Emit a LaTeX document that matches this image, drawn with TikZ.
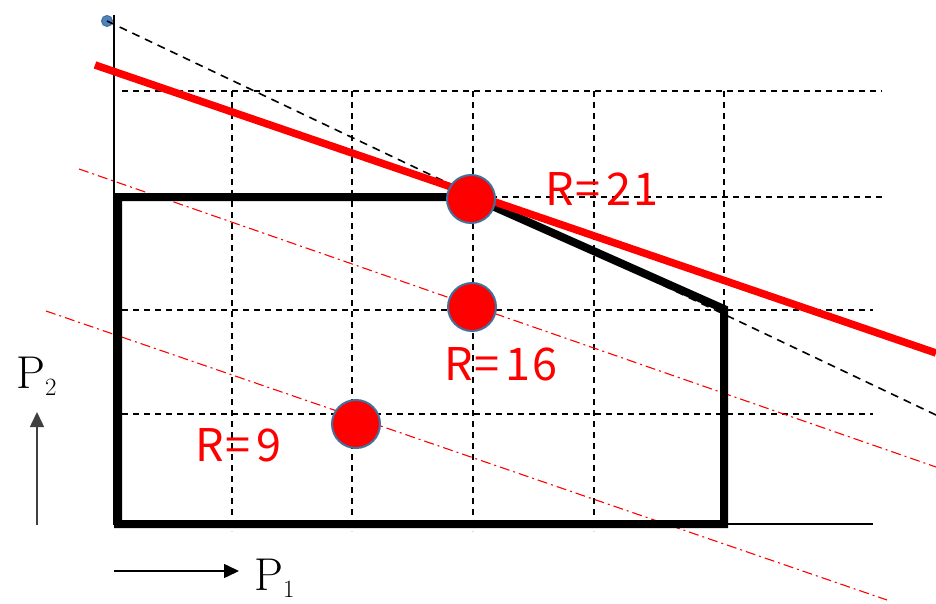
\documentclass[tikz,border=0pt]{standalone}
\usepackage{fontspec}
\newfontfamily\jpfont{Noto Sans CJK JP}
\usetikzlibrary{arrows.meta}
\definecolor{dotedge}{RGB}{65,113,156}
\definecolor{bluedot}{RGB}{80,130,190}
\tikzset{
  gridline/.style={black, line width=1.4pt, dash pattern=on 6pt off 5pt},
  diagline/.style={black, line width=1.6pt, dash pattern=on 8pt off 6pt},
  rdashdot/.style={red, line width=1.1pt, dash pattern=on 10pt off 4pt on 2pt off 4pt},
  polyline/.style={black, line width=8pt, line join=miter},
  optline/.style={red, line width=7.5pt},
  reddot/.style={circle, fill=red, draw=dotedge, line width=2pt, minimum size=48pt, inner sep=0pt},
  rlabel/.style={red, font=\jpfont\fontsize{45}{50}\selectfont, anchor=base west, inner sep=0pt},
  plabel/.style={font=\fontsize{46}{50}\selectfont, anchor=base west, inner sep=0pt},
  axarrow/.style={line width=1.5pt, -{Triangle[length=15pt,width=14pt]}}
}
\newcommand{\eqk}{\kern2pt=\kern6pt}
\begin{document}
\begin{tikzpicture}[x=1pt,y=-1pt]
\useasboundingbox (0,0) rectangle (936,604);
% grid
\draw[gridline] (122,91) -- (882,91);
\draw[gridline] (480,197) -- (882,197);
\draw[gridline] (122,310) -- (873,310);
\draw[gridline] (122,414) -- (873,414);
\foreach \gx in {232,352,473,594} \draw[gridline] (\gx,91) -- (\gx,531);
\draw[gridline] (724,91) -- (724,310);
% axes
\draw[black, line width=1.5pt] (114,15) -- (114,524) -- (873,524);
% iso-revenue lines
\draw[rdashdot] (79,169) -- (936,467);
\draw[rdashdot] (46,311) -- (887,600);
% feasible region
\draw[polyline] (118,524) -- (118,197) -- (472,197) -- (724,309) -- (724,524) -- cycle;
% dashed tangent
\node[circle, fill=bluedot, draw=dotedge, line width=1pt, minimum size=11pt, inner sep=0pt] (bd) at (107,21) {};
\coordinate (de) at (936,415);
\draw[diagline] (bd.center) -- (de);
% optimal line
\coordinate (ra) at (95,65);
\coordinate (rb) at (936,353);
\draw[optline] (ra) -- (rb);
% dots
\node[reddot] (d21) at (471,199) {};
\node[reddot] (d16) at (472,307) {};
\node[reddot] (d9) at (356,424) {};
% labels
\node[rlabel] (l21) at (545,205) {R\eqk 2\kern2pt1};
\node[rlabel] (l16) at (444,380) {R\eqk 1\kern2pt6};
\node[rlabel] (l9) at (195,461) {R\eqk 9};
% P axes arrows
\coordinate (v0) at (37,525);
\coordinate (v1) at (37,412);
\draw[axarrow, black!75] (v0) -- (v1);
\coordinate (h0) at (114,571);
\coordinate (h1) at (239,571);
\draw[axarrow] (h0) -- (h1);
\node[plabel] (p2) at (16,388) {$\mathrm{P}_2$};
\node[plabel] (p1) at (254,590) {$\mathrm{P}_1$};
\end{tikzpicture}
\end{document}
